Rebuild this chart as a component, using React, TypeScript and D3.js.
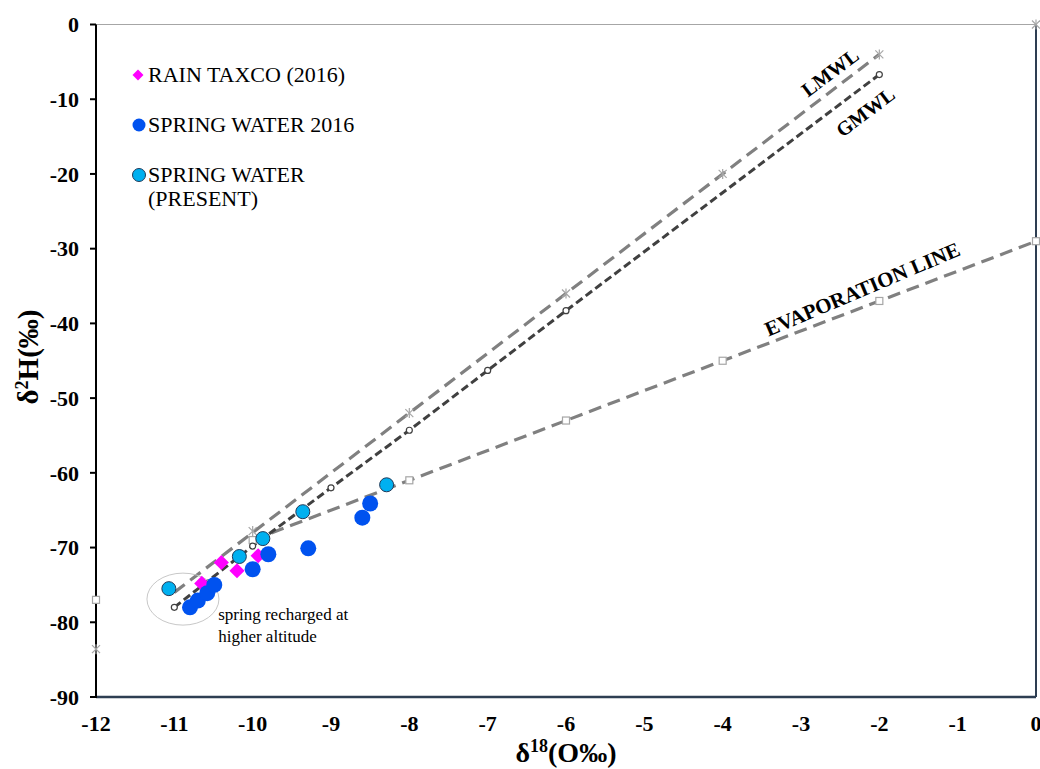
import * as d3 from "d3";

// axis ticks
const xTicks = [-12, -11, -10, -9, -8, -7, -6, -5, -4, -3, -2, -1, 0];
const yTicks = [0, -10, -20, -30, -40, -50, -60, -70, -80, -90];

// samples [δ18O, δ2H]
const rainTaxco = [
  [-10.65, -74.8],
  [-10.4, -72],
  [-10.2, -73.1],
  [-9.93, -71.1],
];
const spring2016 = [
  [-10.8, -78],
  [-10.7, -77.1],
  [-10.58, -76.1],
  [-10.49, -75],
  [-10.0, -72.9],
  [-9.8, -70.9],
  [-9.29, -70.1],
  [-8.6, -66],
  [-8.5, -64.1],
];
const springPresent = [
  [-11.07, -75.5],
  [-10.17, -71.2],
  [-9.87, -68.8],
  [-9.36, -65.2],
  [-8.29, -61.6],
];

// reference lines
const lmwlMarks = [
  [-12, -83.6],
  [-10, -67.8],
  [-8, -52],
  [-6, -36],
  [-4, -20],
  [-2, -4],
  [0, 0],
];
const lmwlLine = [
  [-11, -76],
  [-2, -4],
];
const gmwlMarks = [
  [-11, -78],
  [-10, -69.8],
  [-9, -62],
  [-8, -54.3],
  [-7, -46.3],
  [-6, -38.3],
  [-2, -6.7],
];
const evapMarks = [
  [-12, -77],
  [-10, -69],
  [-8, -61],
  [-6, -53],
  [-4, -45],
  [-2, -37],
  [0, -29],
];
const evapLine = [
  [-10, -69],
  [0, -29],
];

const legendItems = ["RAIN TAXCO (2016)", "SPRING WATER 2016", "SPRING WATER"];

const W = 1040;
const H = 769;
const serif = "'Liberation Serif', 'Times New Roman', serif";

export default function App() {
  const x = d3.scaleLinear().domain([-12, 0]).range([96, 1036]);
  const y = d3.scaleLinear().domain([-90, 0]).range([697, 24.5]);

  const line = d3
    .line<number[]>()
    .x((d) => x(d[0]))
    .y((d) => y(d[1]));

  // square turned 45° = Excel diamond
  const diamond = d3.symbol(d3.symbolSquare, 115)();
  const legendDiamond = d3.symbol(d3.symbolSquare, 60)();

  const star = (cx: number, cy: number, key: string) => (
    <g key={key} transform={`translate(${cx},${cy})`} stroke="#a6a6a6" strokeWidth={1.2}>
      <line x1={-4} y1={-4} x2={4} y2={4} />
      <line x1={-4} y1={4} x2={4} y2={-4} />
      <line x1={0} y1={-5} x2={0} y2={5} />
    </g>
  );

  return (
    <div style={{ position: "fixed", left: 0, top: 0 }}>
      <svg width={W} height={H} style={{ display: "block", background: "#fff" }}>
        {/* frame */}
        <line x1={96} x2={1036} y1={y(0)} y2={y(0)} stroke="#a6a6a6" strokeWidth={1} />
        <line x1={1036} x2={1036} y1={y(0)} y2={y(-90)} stroke="#2e3e52" strokeWidth={2} />
        <line x1={96} x2={1036} y1={y(-90)} y2={y(-90)} stroke="#2e3e52" strokeWidth={2.5} />
        <line x1={96} x2={96} y1={y(0)} y2={y(-90) + 1} stroke="#000" strokeWidth={2} />

        {/* y ticks */}
        {yTicks.map((t) => (
          <g key={t}>
            <line x1={90} x2={96} y1={y(t)} y2={y(t)} stroke="#000" strokeWidth={2} />
            <text
              x={79}
              y={y(t)}
              dy="0.35em"
              textAnchor="end"
              fontFamily={serif}
              fontWeight="bold"
              fontSize={22}
            >
              {t}
            </text>
          </g>
        ))}
        {xTicks.map((t) => (
          <text
            key={t}
            x={x(t)}
            y={731}
            textAnchor="middle"
            fontFamily={serif}
            fontWeight="bold"
            fontSize={22}
          >
            {t}
          </text>
        ))}

        {/* axis titles */}
        <text x={566} y={762} textAnchor="middle" fontFamily={serif} fontWeight="bold" fontSize={28}>
          δ<tspan fontSize={18} dy={-10}>18</tspan>
          <tspan dy={10}>(O‰)</tspan>
        </text>
        <text
          transform={`translate(38,${357}) rotate(-90)`}
          textAnchor="middle"
          fontFamily={serif}
          fontWeight="bold"
          fontSize={29}
        >
          δ<tspan fontSize={18} dy={-10}>2</tspan>
          <tspan dy={10}>H(‰)</tspan>
        </text>

        {/* lines */}
        <path d={line(lmwlLine)!} fill="none" stroke="#808080" strokeWidth={3.2} strokeDasharray="13 7" />
        <path d={line(evapLine)!} fill="none" stroke="#808080" strokeWidth={3.2} strokeDasharray="13 7" />
        <path d={line(gmwlMarks)!} fill="none" stroke="#404040" strokeWidth={3} strokeDasharray="8 4" />

        {lmwlMarks.map((d, i) => star(x(d[0]), y(d[1]), "s" + i))}
        {evapMarks.map((d, i) => (
          <rect
            key={"e" + i}
            x={x(d[0]) - 3.5}
            y={y(d[1]) - 3.5}
            width={7}
            height={7}
            fill="#fff"
            stroke="#a6a6a6"
            strokeWidth={1.2}
          />
        ))}
        {gmwlMarks.map((d, i) => (
          <circle key={"g" + i} cx={x(d[0])} cy={y(d[1])} r={3} fill="#fff" stroke="#404040" strokeWidth={1.2} />
        ))}

        {/* ellipse annotation */}
        <ellipse cx={x(-10.89)} cy={y(-76.9)} rx={36} ry={26} fill="none" stroke="#c8c8c8" strokeWidth={1} />
        <text x={x(-10.44)} y={y(-79.7)} fontFamily={serif} fontSize={17}>
          spring recharged at
        </text>
        <text x={x(-10.44)} y={y(-79.7) + 22} fontFamily={serif} fontSize={17}>
          higher altitude
        </text>

        {/* samples */}
        {rainTaxco.map((d, i) => (
          <path
            key={"r" + i}
            d={diamond!}
            transform={`translate(${x(d[0])},${y(d[1])}) rotate(45)`}
            fill="#ff00ff"
          />
        ))}
        {spring2016.map((d, i) => (
          <circle key={"b" + i} cx={x(d[0])} cy={y(d[1])} r={8} fill="#0052ef" />
        ))}
        {springPresent.map((d, i) => (
          <circle
            key={"c" + i}
            cx={x(d[0])}
            cy={y(d[1])}
            r={7}
            fill="#00b0f0"
            stroke="#1f3a5a"
            strokeWidth={1}
          />
        ))}

        {/* line labels */}
        <text
          transform={`translate(${x(-2.63)},${y(-6.4)}) rotate(-37)`}
          textAnchor="middle"
          dy="0.35em"
          fontFamily={serif}
          fontWeight="bold"
          fontSize={20}
        >
          LMWL
        </text>
        <text
          transform={`translate(${x(-2.18)},${y(-11.7)}) rotate(-37)`}
          textAnchor="middle"
          dy="0.35em"
          fontFamily={serif}
          fontWeight="bold"
          fontSize={20}
        >
          GMWL
        </text>
        <text
          transform={`translate(${x(-2.22)},${y(-35.4)}) rotate(-23)`}
          textAnchor="middle"
          dy="0.35em"
          fontFamily={serif}
          fontWeight="bold"
          fontSize={21}
        >
          EVAPORATION LINE
        </text>

        {/* legend */}
        <g fontFamily={serif} fontSize={22}>
          <path d={legendDiamond!} transform="translate(138,75) rotate(45)" fill="#ff00ff" />
          <text x={148} y={82}>{legendItems[0]}</text>
          <circle cx={139} cy={125} r={6.5} fill="#0052ef" />
          <text x={148} y={132}>{legendItems[1]}</text>
          <circle cx={139} cy={175} r={6.5} fill="#00b0f0" stroke="#1f3a5a" strokeWidth={1} />
          <text x={148} y={182}>{legendItems[2]}</text>
          <text x={148} y={206}>(PRESENT)</text>
        </g>
      </svg>
    </div>
  );
}
